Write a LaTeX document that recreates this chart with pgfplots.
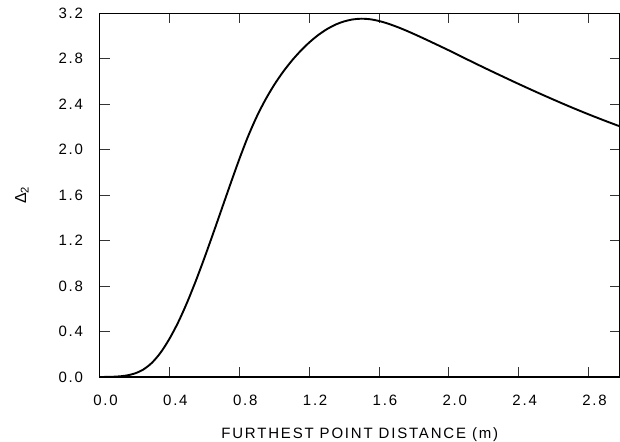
\documentclass[border=0pt]{standalone}
\usepackage{fontspec}
\setmainfont{Liberation Sans}[LetterSpace=12]
\usepackage{pgfplots}
\pgfplotsset{compat=1.18}
\begin{document}
\begin{tikzpicture}
\useasboundingbox (0,0) rectangle (620pt,441pt);
\begin{axis}[
  at={(99.5pt,64pt)}, anchor=south west,
  width=520.5pt, height=363.7pt, scale only axis,
  xmin=0, xmax=2.98, ymin=0, ymax=3.2,
  xtick={0,0.4,0.8,1.2,1.6,2.0,2.4,2.8},
  ytick={0,0.4,0.8,1.2,1.6,2.0,2.4,2.8,3.2},
  tick align=inside, major tick length=10pt,
  tick style={line width=0.7pt, black!80},
  axis line style={line width=1.4pt},
  /pgf/number format/assume math mode=true,
  /pgf/number format/.cd, fixed, fixed zerofill, precision=1, /pgfplots/.cd,
  tick label style={font=\fontsize{15}{18}\selectfont},
  xticklabel style={yshift=-14pt, xshift=6pt},
  yticklabel style={xshift=-13pt},
  xlabel={FURTHEST POINT DISTANCE (m)},
  ylabel={Δ\textsubscript{2}},
  every axis x label/.style={at={(axis description cs:0.5,-0.1595)}, anchor=center, font=\fontsize{15}{18}\selectfont},
  every axis y label/.style={at={(axis description cs:-0.149,0.5)}, rotate=90, anchor=center, font=\fontsize{16}{18}\selectfont},
]
\addplot[black, line width=1.9pt, smooth, tension=0.5] coordinates {
(0,0) (0.05,0.001) (0.1,0.004) (0.15,0.012) (0.2,0.03) (0.25,0.065)
(0.3,0.125) (0.35,0.215) (0.4,0.335) (0.45,0.48) (0.5,0.65) (0.55,0.84)
(0.6,1.045) (0.65,1.26) (0.7,1.48) (0.75,1.70) (0.8,1.915) (0.85,2.115)
(0.9,2.29) (0.95,2.44) (1.0,2.57) (1.05,2.6825) (1.1,2.781) (1.15,2.867)
(1.2,2.942) (1.25,3.006) (1.3,3.0585) (1.35,3.0995) (1.4,3.1285) (1.45,3.146)
(1.5,3.1525) (1.55,3.1475) (1.6,3.1325) (1.65,3.11) (1.7,3.0825) (1.75,3.0515)
(1.8,3.018) (1.85,2.983) (1.9,2.947) (2.0,2.874) (2.1,2.798) (2.2,2.723)
(2.3,2.65) (2.4,2.578) (2.5,2.508) (2.6,2.44) (2.7,2.374) (2.8,2.311)
(2.9,2.251) (2.98,2.205)
};
\end{axis}
\end{tikzpicture}
\end{document}
